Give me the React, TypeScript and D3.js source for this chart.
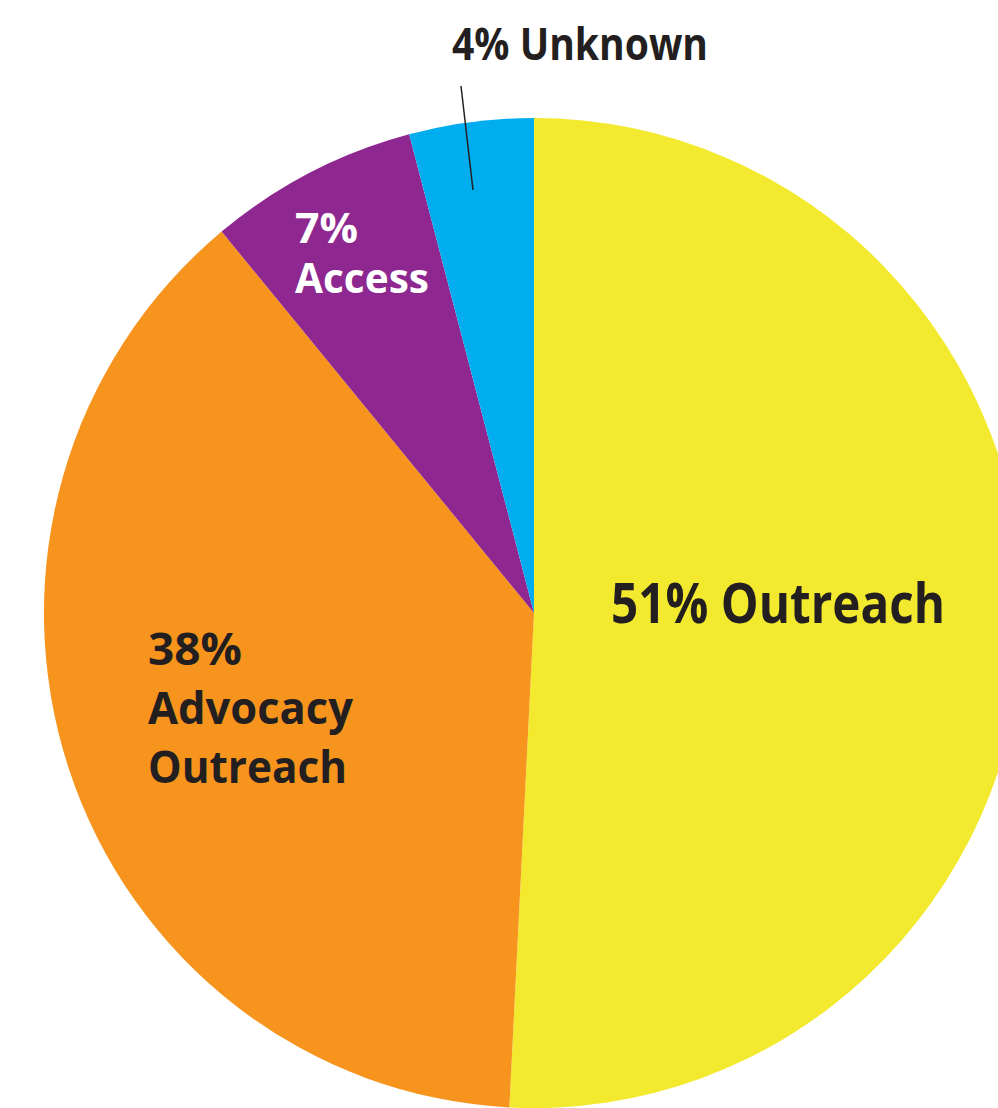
import * as d3 from 'd3'
import React from 'react'

const categories = ['Outreach', 'Advocacy Outreach', 'Access', 'Unknown']
// slice sizes as drawn in the artwork (labels are rounded)
const shares = [50.8, 38.2, 6.9, 4.1]
const colors = ['#F3EA2F', '#F7941E', '#8E278F', '#00AEEF']

const labelLines = [
  ['51% Outreach'],
  ['38%', 'Advocacy', 'Outreach'],
  ['7%', 'Access'],
  ['4% Unknown'],
]

const W = 998, H = 1108
const cx = 534, cy = 613, radius = 495, squeezeX = 0.99

interface LabelSpec { x: number; y: number; size: number; lh: number; fill: string; widths: number[] }
const labelSpecs: LabelSpec[] = [
  { x: 611, y: 623, size: 56, lh: 0, fill: '#231F20', widths: [334] },
  { x: 148, y: 665, size: 45, lh: 59, fill: '#231F20', widths: [94, 205, 199] },
  { x: 295, y: 243, size: 41, lh: 50, fill: '#FFFFFF', widths: [63, 134] },
  { x: 452, y: 60, size: 45, lh: 0, fill: '#231F20', widths: [256] },
]

export default function App() {
  const pie = d3.pie<number>().sort(null).value(d => d)
  const arcs = pie(shares)
  const arc = d3.arc<d3.PieArcDatum<number>>().innerRadius(0).outerRadius(radius)

  return (
    <svg width={W} height={H} style={{ position: 'absolute', left: 0, top: 0 }}
      fontFamily="'Open Sans', 'Noto Sans', sans-serif" fontWeight={700}>
      <rect width={W} height={H} fill='#fff' />
      <g transform={`translate(${cx},${cy}) scale(${squeezeX},1)`}>
        {arcs.map((a, i) => (
          <path key={categories[i]} d={arc(a) as string} fill={colors[i]} />
        ))}
      </g>
      <line x1={461} y1={86} x2={473} y2={190} stroke='#231F20' strokeWidth={1.5} />
      {labelLines.map((lines, i) => {
        const s = labelSpecs[i]
        return (
          <g key={i} fill={s.fill} fontSize={s.size}>
            {lines.map((t, j) => (
              <text key={j} x={s.x} y={s.y + j * s.lh} textLength={s.widths[j]}
                lengthAdjust='spacingAndGlyphs'>{t}</text>
            ))}
          </g>
        )
      })}
    </svg>
  )
}
